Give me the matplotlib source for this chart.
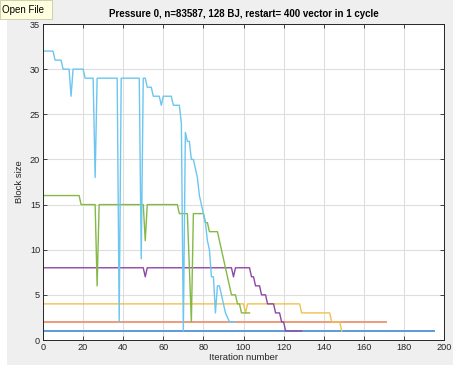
import matplotlib
matplotlib.use("Agg")
import matplotlib.pyplot as plt
from matplotlib.patches import Rectangle

# Block size per iteration
x_bs1 = [0, 195]
y_bs1 = [1, 1]

x_bs2 = [0, 171]
y_bs2 = [2, 2]

x_bs4 = [0, 100, 101, 102, 128, 129, 143, 144, 148, 149]
y_bs4 = [4, 4, 3, 4, 4, 3, 3, 2, 2, 1]

x_bs8 = [0, 50, 51, 52, 94, 95, 96, 103, 104, 105, 106, 108, 109, 111, 112, 115,
         116, 118, 119, 120, 121, 129]
y_bs8 = [8, 8, 7, 8, 8, 7, 8, 8, 7, 7, 6, 6, 5, 5, 4, 4,
         3, 3, 2, 2, 1, 1]

x_bs16 = [0, 18, 19, 26, 27, 28, 50, 51, 52, 67, 68, 72, 74, 75, 80, 81, 82, 83,
          87, 88, 89, 90, 91, 92, 93, 94, 96, 97, 98, 99, 103]
y_bs16 = [16, 16, 15, 15, 6, 15, 15, 11, 15, 15, 14, 14, 2, 14, 14, 13, 13, 12,
          12, 11, 10, 9, 8, 7, 6, 5, 5, 4, 4, 3, 3]

x_bs32 = [0, 5, 6, 9, 10, 13, 14, 15, 20, 21, 25, 26, 27, 37, 38, 39, 48, 49, 50,
          51, 52, 54, 55, 58, 59, 60, 64, 65, 68, 69, 70, 71, 72, 73, 74, 75,
          76, 77, 78, 79, 80, 81, 82, 83, 84, 85, 86, 87, 88, 89, 90, 91, 93, 96]
y_bs32 = [32, 32, 31, 31, 30, 30, 27, 30, 30, 29, 29, 18, 29, 29, 2, 29, 29, 9, 29,
          29, 28, 28, 27, 27, 26, 27, 27, 26, 26, 24, 1, 23, 22, 22, 20, 20,
          19, 18, 16, 15, 14, 13, 11, 10, 7, 7, 3, 6, 6, 5, 4, 3, 2, 2]

series = [(x_bs1, y_bs1, '#5a9bd8', 1.4),
          (x_bs2, y_bs2, '#ee9b7e', 1.4),
          (x_bs4, y_bs4, '#eec24e', 1.0),
          (x_bs8, y_bs8, '#8e46a4', 1.0),
          (x_bs16, y_bs16, '#84b847', 1.0),
          (x_bs32, y_bs32, '#6cc6f0', 1.0)]

plt.rcParams['font.family'] = ['Liberation Sans', 'DejaVu Sans']

fig = plt.figure(figsize=(4.53, 3.67), dpi=100, facecolor='white')
# grey window background
fig.patches.append(Rectangle((7 / 453, 2 / 367), 446 / 453, 365 / 367,
                             transform=fig.transFigure, facecolor='#efefef',
                             edgecolor='none', zorder=-10))

ax = fig.add_axes([43 / 453, 27 / 367, 401 / 453, 316 / 367])
ax.set_facecolor('white')
for xs, ys, c, lw in series:
    ax.plot(xs, ys, color=c, lw=lw)

ax.set_xlim(0, 200)
ax.set_ylim(0, 35)
ax.set_xticks(range(0, 201, 20))
ax.set_yticks(range(0, 36, 5))
ax.grid(True, color='#dedede', lw=0.8)
ax.set_axisbelow(True)
ax.tick_params(direction='in', length=3, width=0.6, labelsize=6.6,
               colors='#262626', top=True, right=True, pad=2)
for s in ax.spines.values():
    s.set_color('#262626')
    s.set_linewidth(0.7)

ax.set_title('Pressure 0, n=83587, 128 BJ, restart= 400 vector in 1 cycle',
             fontsize=7, fontweight='bold', pad=5)
ax.set_xlabel('Iteration number', fontsize=6.8, labelpad=1, color='#262626')
ax.set_ylabel('Block size', fontsize=6.8, labelpad=4, color='#262626')

# tooltip in the corner of the screenshot
fig.patches.append(Rectangle((0, 1 - 19 / 367), 52 / 453, 19 / 367,
                             transform=fig.transFigure, facecolor='#ffffe0',
                             edgecolor='#c8c8a8', lw=0.6, zorder=10))
fig.text(2 / 453, 1 - 10 / 367, 'Open File', fontsize=7, va='center',
         ha='left', zorder=11)

fig.savefig('out.png', dpi=100, facecolor=fig.get_facecolor())
